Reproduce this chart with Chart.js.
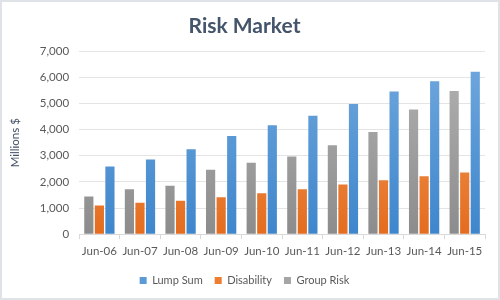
<!DOCTYPE html>
<html>
<head>
<meta charset="utf-8">
<script src="https://cdn.jsdelivr.net/npm/chart.js@4/dist/chart.umd.min.js"></script>
<style>
  html, body { margin: 0; padding: 0; background: #fff; }
  .frame { width: 500px; height: 300px; box-sizing: border-box; border: 2px solid #dfe3e8; position: relative; }
</style>
</head>
<body>
<div class="frame"><canvas id="cv"></canvas></div>
<script>
// data
const years      = ['Jun-06','Jun-07','Jun-08','Jun-09','Jun-10','Jun-11','Jun-12','Jun-13','Jun-14','Jun-15'];
const groupRisk  = [1440, 1720, 1850, 2470, 2730, 2970, 3400, 3910, 4770, 5480];
const disability = [1100, 1200, 1280, 1410, 1570, 1720, 1900, 2060, 2220, 2360];
const lumpSum    = [2590, 2860, 3250, 3760, 4170, 4530, 4980, 5460, 5850, 6210];
const yTicks     = [0, 1000, 2000, 3000, 4000, 5000, 6000, 7000];

const FONT = 'Lato, "Open Sans", sans-serif';
const TXT  = '#595959';

// vertical gradient like the office bar fill
function grad(top, bot) {
  return ctx => {
    const ca = ctx.chart.chartArea;
    if (!ca) return bot;
    const g = ctx.chart.ctx.createLinearGradient(0, ca.top, 0, ca.bottom);
    g.addColorStop(0, top); g.addColorStop(1, bot);
    return g;
  };
}

const bar = { categoryPercentage: 0.78, barPercentage: 0.87, borderWidth: 0 };

new Chart(document.getElementById('cv'), {
  type: 'bar',
  data: {
    labels: years,
    datasets: [
      { label: 'Group Risk', data: groupRisk,  backgroundColor: grad('#b4b4b4', '#8c8c8c'), legendColor: '#a5a5a5', ...bar },
      { label: 'Disability', data: disability, backgroundColor: grad('#f4a466', '#e46c1e'), legendColor: '#ed7d31', ...bar },
      { label: 'Lump Sum',   data: lumpSum,    backgroundColor: grad('#72a9de', '#3e86cc'), legendColor: '#5b9bd5', ...bar },
    ],
  },
  options: {
    responsive: true, maintainAspectRatio: false, animation: false,
    layout: { padding: { left: 2, right: 13, top: 4, bottom: 2 } },
    plugins: {
      title: { display: true, text: 'Risk Market', color: '#44546a',
        font: { family: FONT, size: 21, weight: 'bold' }, padding: { top: 8, bottom: 12 } },
      legend: { position: 'bottom',
        labels: { boxWidth: 7, boxHeight: 7, color: TXT, font: { family: FONT, size: 11 }, padding: 12,
          sort: (a, b) => b.datasetIndex - a.datasetIndex,
          generateLabels: ch => ch.data.datasets.map((d, i) => ({
            text: d.label, fillStyle: d.legendColor, strokeStyle: d.legendColor, lineWidth: 0,
            datasetIndex: i, hidden: false, fontColor: TXT })) } },
      tooltip: { enabled: false },
    },
    scales: {
      x: {
        offset: true,
        grid: { offset: true, drawOnChartArea: false, drawTicks: true, tickLength: 5, color: '#d9d9d9' },
        border: { color: '#d9d9d9' },
        ticks: { color: TXT, font: { family: FONT, size: 11.5 }, padding: 5, maxRotation: 0, autoSkip: false },
      },
      y: {
        min: 0, max: 7000,
        afterBuildTicks: ax => { ax.ticks = yTicks.map(v => ({ value: v })); },
        grid: { color: '#e4e4e4', drawTicks: false },
        border: { display: false },
        ticks: { color: TXT, font: { family: FONT, size: 11.5 }, padding: 10,
          callback: v => v.toLocaleString('en-US') },
        title: { display: true, text: 'Millions $', color: '#44546a', font: { family: FONT, size: 11.5 }, padding: { bottom: 8 } },
      },
    },
  },
});
</script>
</body>
</html>
